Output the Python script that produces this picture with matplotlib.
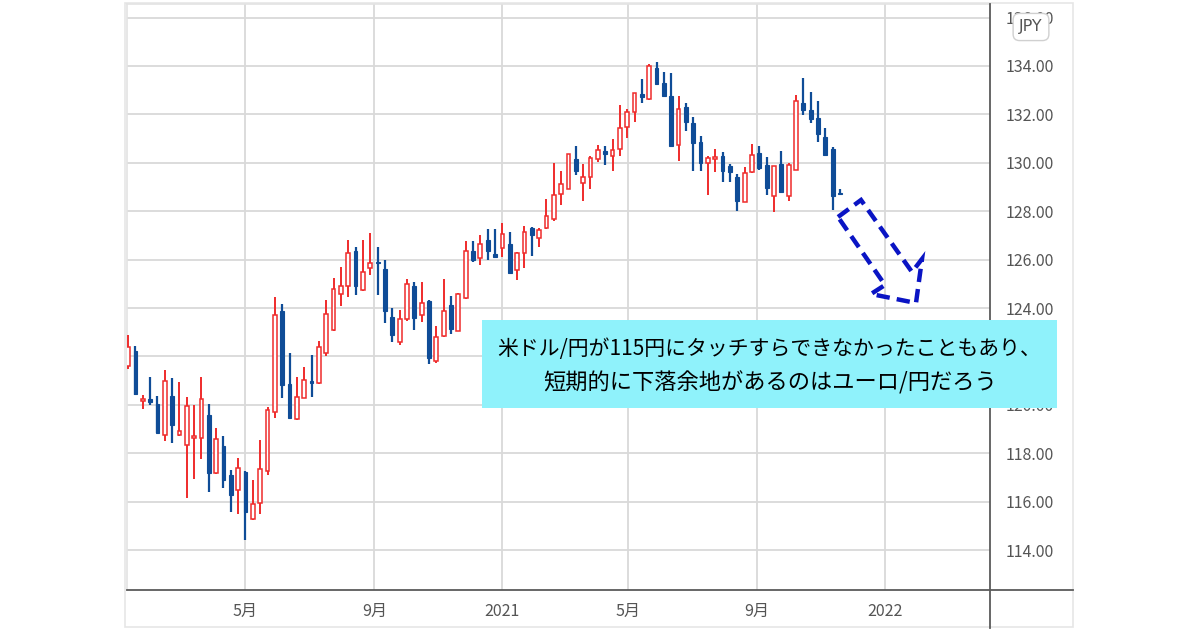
import numpy as np
import pandas as pd
import matplotlib
matplotlib.use('Agg')
from matplotlib import pyplot as plt
from matplotlib.patches import Rectangle, Polygon
from matplotlib.lines import Line2D
import matplotlib.dates as mdates

# weekly EUR/JPY candles
weeks = pd.date_range('2020-01-10', periods=98, freq='7D')

opens = [121.6, 122.24, 120.15, 120.25, 120.04, 118.76, 120.38, 118.76, 118.32, 118.65,
         118.63, 119.56, 117.2, 118.28, 117.09, 116.47, 117.22, 115.3, 115.95, 117.25,
         119.7, 123.89, 120.85, 119.4, 120.3, 120.98, 120.9, 122.15, 123.11, 124.58,
         124.9, 126.34, 124.76, 125.66, 125.92, 125.63, 123.64, 122.6, 123.53, 124.9,
         123.7, 124.31, 121.81, 122.84, 124.12, 123.07, 124.42, 126.34, 126.07, 126.8,
         126.25, 126.48, 126.66, 125.56, 126.29, 127.31, 126.89, 127.31, 127.69, 128.72,
         128.93, 130.16, 129.18, 129.41, 130.14, 130.48, 130.3, 130.59, 131.46, 132.08,
         132.86, 132.63, 133.93, 133.29, 132.74, 130.74, 132.32, 131.66, 130.84, 129.99,
         130.17, 130.29, 129.85, 129.42, 128.36, 129.6, 130.4, 129.92, 128.64, 129.95,
         128.64, 129.71, 132.46, 132.19, 131.84, 131.07, 130.56, 128.72]
highs = [122.9, 122.42, 120.41, 121.17, 120.38, 121.42, 121.1, 120.96, 120.32, 120.0,
         121.17, 120.04, 119.05, 118.71, 117.29, 117.81, 117.25, 116.88, 118.53, 119.9,
         124.44, 124.16, 122.15, 121.15, 121.56, 122.05, 122.63, 124.35, 125.24, 125.68,
         126.82, 126.51, 126.82, 127.1, 126.51, 125.97, 124.0, 123.9, 125.18, 125.07,
         125.07, 124.35, 123.25, 125.2, 124.49, 124.6, 126.76, 126.78, 127.03, 127.28,
         127.28, 127.53, 127.14, 126.32, 127.39, 127.35, 127.31, 128.52, 130.0, 129.66,
         130.37, 130.71, 129.96, 130.27, 130.74, 130.69, 131.0, 132.38, 132.21, 132.87,
         133.45, 134.07, 134.16, 133.73, 133.7, 132.74, 132.45, 131.9, 131.11, 130.29,
         130.59, 130.45, 129.95, 129.53, 129.81, 130.77, 130.7, 130.22, 129.85, 130.47,
         130.01, 132.79, 133.52, 132.93, 132.56, 131.43, 130.67, 128.91]
lows = [121.5, 120.4, 119.83, 120.0, 118.85, 118.49, 118.43, 118.7, 116.15, 116.95,
        117.77, 116.4, 117.15, 116.58, 115.57, 115.5, 114.4, 115.25, 115.5, 117.11,
        119.45, 120.27, 119.44, 119.38, 120.27, 120.34, 120.88, 122.01, 123.07, 124.08,
        124.45, 124.53, 124.7, 125.38, 124.53, 123.39, 122.6, 122.47, 123.46, 123.09,
        123.43, 121.7, 121.71, 122.81, 122.93, 123.07, 124.38, 125.9, 125.79, 125.97,
        126.11, 126.11, 125.45, 125.15, 125.67, 126.15, 126.52, 127.28, 127.58, 128.27,
        128.9, 129.48, 128.41, 128.93, 130.05, 129.89, 129.68, 130.26, 131.04, 131.69,
        132.49, 132.6, 133.2, 132.72, 130.7, 130.08, 131.32, 129.67, 129.67, 128.68,
        129.6, 129.19, 129.19, 127.99, 128.36, 129.57, 129.71, 128.68, 127.98, 128.75,
        128.43, 129.71, 131.98, 131.66, 130.84, 130.26, 128.06, 128.68]
closes = [122.4, 120.45, 120.25, 120.1, 118.85, 121.0, 119.15, 118.91, 119.97, 118.72,
          120.25, 117.2, 118.57, 116.88, 116.29, 117.39, 115.57, 115.92, 117.33, 119.77,
          123.71, 120.82, 119.47, 120.34, 121.01, 120.9, 122.38, 123.76, 124.79, 124.9,
          126.27, 124.9, 125.49, 125.86, 125.85, 123.87, 122.88, 123.53, 125.01, 123.57,
          124.21, 121.94, 122.81, 123.87, 123.15, 124.58, 126.34, 126.0, 126.66, 126.36,
          126.11, 127.07, 125.45, 126.29, 127.14, 127.0, 127.21, 127.8, 128.68, 129.13,
          130.37, 129.66, 129.41, 130.19, 130.54, 130.37, 130.51, 131.42, 132.08, 132.87,
          132.72, 134.0, 133.24, 132.76, 130.7, 132.24, 131.69, 130.81, 129.99, 130.19,
          130.2, 129.67, 129.63, 128.43, 129.57, 130.32, 129.78, 128.94, 129.85, 128.78,
          129.92, 132.56, 132.19, 131.8, 131.18, 130.32, 128.61, 128.69]

tick_dates = ['2020-05-01', '2020-09-01', '2021-01-01', '2021-05-01', '2021-09-01', '2022-01-01']
tick_labels = ['5月', '9月', '2021', '5月', '9月', '2022']
price_ticks = np.arange(114, 137, 2)

note_lines = ['米ドル/円が115円にタッチすらできなかったこともあり、',
              '短期的に下落余地があるのはユーロ/円だろう']

UP = '#ef2b2b'
DOWN = '#0f4c97'
GRID = '#d9d9d9'
AXIS = '#5a5a5a'
W, H = 1200, 630

plt.rcParams['font.family'] = ['Noto Sans CJK JP', 'DejaVu Sans']

fig = plt.figure(figsize=(W / 100, H / 100), dpi=100)
ax = fig.add_axes([127 / W, 1 - 590 / H, (990 - 127) / W, (590 - 4) / H])

o = np.array(opens)
h = np.array(highs)
l = np.array(lows)
c = np.array(closes)
up = c >= o
x = mdates.date2num(weeks)

# wicks
ax.vlines(x[up], l[up], h[up], color=UP, lw=1.4, zorder=3)
ax.vlines(x[~up], l[~up], h[~up], color=DOWN, lw=1.6, zorder=3)

# bodies
bw = 3.6
body_lo = np.minimum(o, c)
body_h = np.maximum(np.abs(c - o), 0.06)
ax.bar(x[up], body_h[up], bottom=body_lo[up], width=bw, facecolor='white',
       edgecolor=UP, linewidth=1.1, zorder=4)
ax.bar(x[~up], body_h[~up], bottom=body_lo[~up], width=bw, facecolor=DOWN,
       edgecolor=DOWN, linewidth=0.8, zorder=4)

ax.set_xlim(mdates.date2num(pd.Timestamp('2020-01-09')), mdates.date2num(pd.Timestamp('2022-04-11')))
ax.set_ylim(112.35, 136.56)

ax.set_xticks(mdates.date2num(pd.to_datetime(tick_dates)))
ax.set_xticklabels(tick_labels)
ax.set_yticks(price_ticks)
ax.set_yticklabels([f'{v:.2f}' for v in price_ticks])
ax.yaxis.tick_right()
ax.tick_params(axis='both', length=0, labelsize=11.5, labelcolor='#555555')
ax.tick_params(axis='y', pad=11)
ax.tick_params(axis='x', pad=9)
ax.grid(True, color=GRID, lw=1.3, zorder=0)
ax.set_axisbelow(True)

for s in ['left', 'top']:
    ax.spines[s].set_color('#e3e3e3')
    ax.spines[s].set_linewidth(1.2)
ax.spines['right'].set_visible(False)
ax.spines['bottom'].set_visible(False)


def px(xp, yp):
    return xp / W, 1 - yp / H


# outer frame and axis lines extended into the price panel
fig.add_artist(Rectangle(px(125, 627), 948 / W, 624 / H, transform=fig.transFigure,
                         fill=False, edgecolor='#e6e6e6', lw=1.2, zorder=0))
fig.add_artist(Line2D([990 / W, 990 / W], [1 - 4 / H, 1 - 628 / H], transform=fig.transFigure,
                      color=AXIS, lw=1.3))
fig.add_artist(Line2D([127 / W, 1073 / W], [1 - 590 / H, 1 - 590 / H], transform=fig.transFigure,
                      color=AXIS, lw=1.3))

# currency badge
fig.text(1031 / W, 1 - 27 / H, 'JPY', ha='center', va='center', fontsize=11.5, color='#555555',
         family=['DejaVu Sans'],
         bbox=dict(boxstyle='round,pad=0.38,rounding_size=0.4', fc='white', ec='#d0d0d0', lw=1))

# note box
fig.add_artist(Rectangle(px(482, 408), (1057 - 482) / W, (408 - 320) / H, transform=fig.transFigure,
                         facecolor='#8ff2fb', edgecolor='none', zorder=5))
fig.text(769 / W, 1 - 349 / H, note_lines[0], ha='center', va='center', fontsize=15,
         color='black', zorder=6)
fig.text(770 / W, 1 - 383 / H, note_lines[1], ha='center', va='center', fontsize=16,
         color='black', zorder=6)

# dashed down arrow
arrow_px = [(838, 217), (861, 200), (912, 272), (922, 259), (916, 303), (871, 294), (885, 285)]
fig.add_artist(Polygon([px(a, b) for a, b in arrow_px], closed=True, transform=fig.transFigure,
                       fill=False, edgecolor='#0a14c4', lw=3.2, linestyle=(0, (3.0, 1.6)),
                       joinstyle='miter', zorder=6))

fig.savefig('out.png', dpi=100)
